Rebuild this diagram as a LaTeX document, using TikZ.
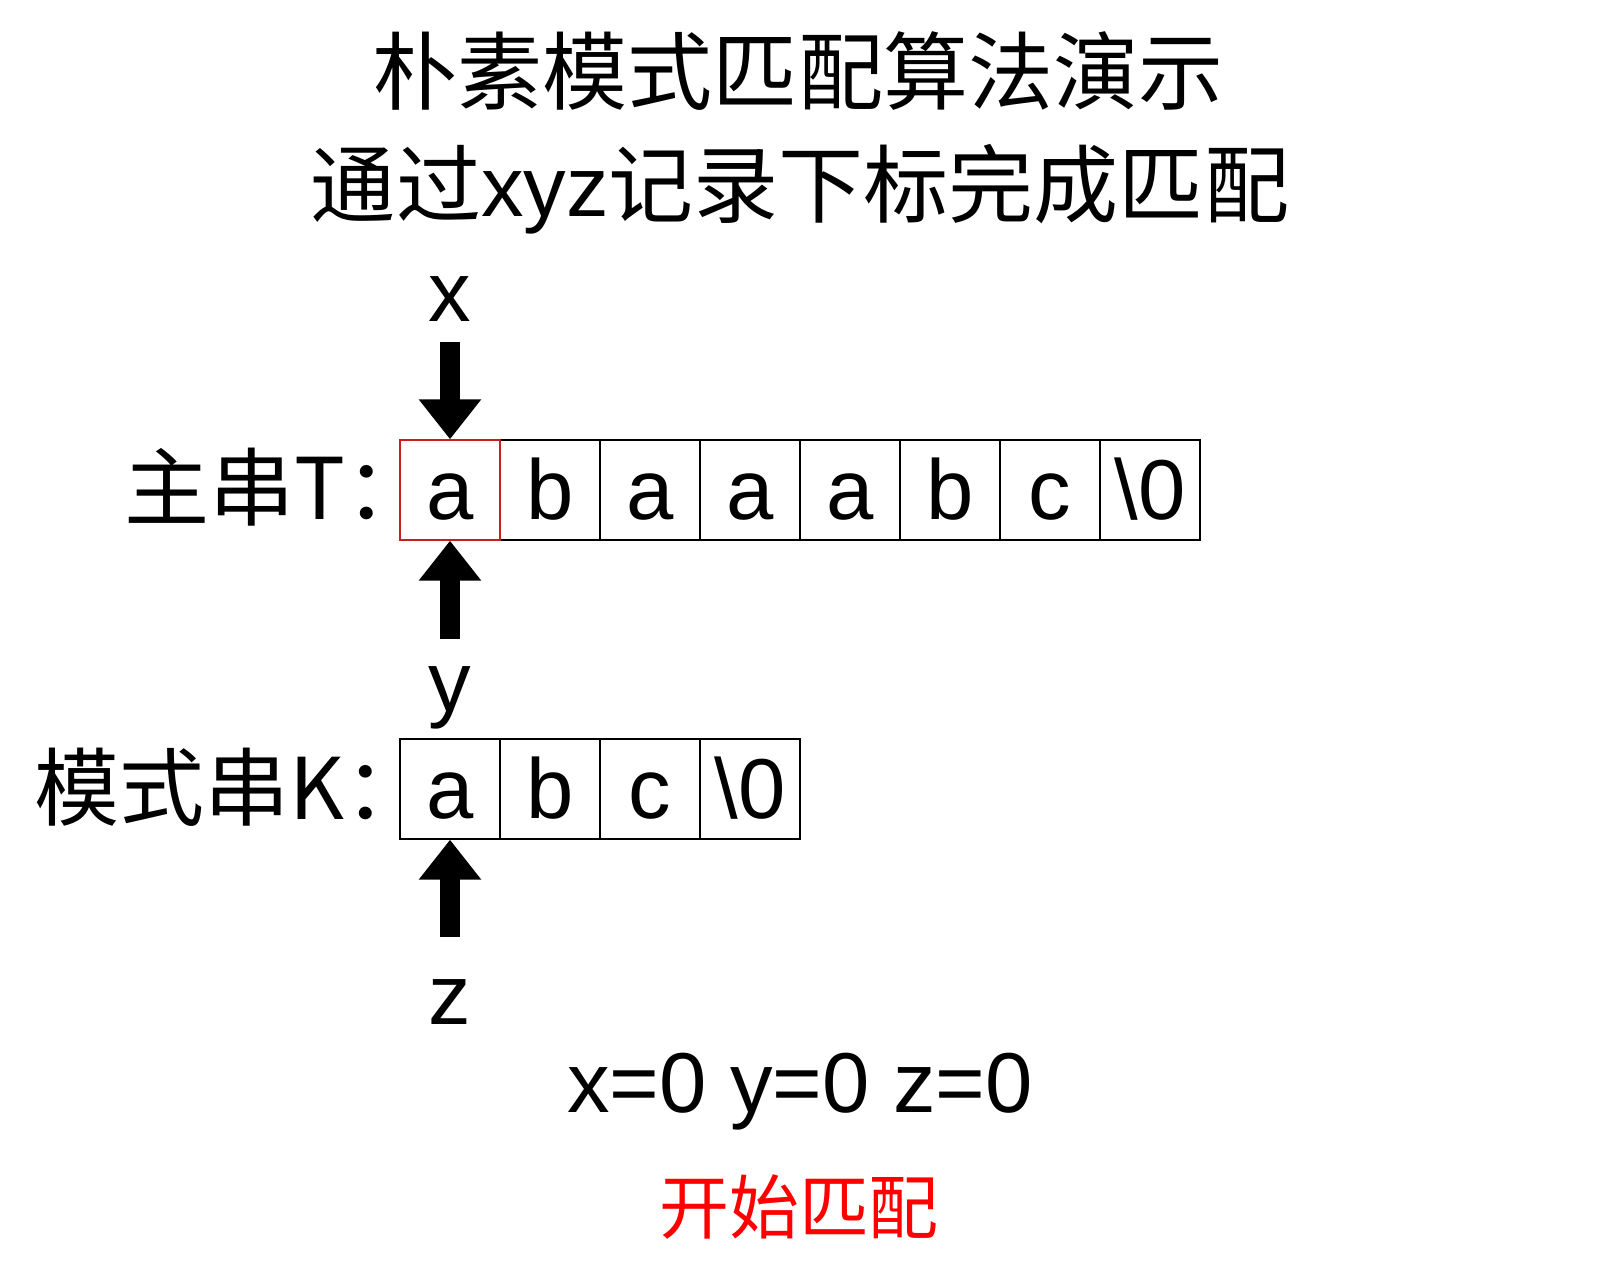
\documentclass[tikz,border=0pt]{standalone}
\usepackage{fontspec}
\setmainfont{Liberation Sans}
\newfontfamily\cjk{Noto Sans CJK SC}
\usetikzlibrary{arrows.meta}
\definecolor{hlred}{RGB}{200,30,30}
\begin{document}
\begin{tikzpicture}[
    cell/.style={draw, line width=0.4pt, minimum size=1cm, inner sep=0pt,
      text height=0.6cm, text depth=0pt, font=\fontsize{24.2}{29}\selectfont},
    lbl/.style={inner sep=0pt, anchor=base, font=\fontsize{24.2}{29}\selectfont},
    ptr/.style={line width=0.2cm, -{Triangle[width=0.6cm,length=0.4cm]}}
  ]
  \useasboundingbox (0,0) rectangle (16,-12.8);
  % titles
  \draw
    (7.98,-1.04) node[lbl] (title){\cjk 朴素模式匹配算法演示}
    (8.0,-2.17) node[lbl] (sub){{\cjk 通过}xyz{\cjk 记录下标完成匹配}};
  % main string T
  \draw
    (1.24,-5.2) node[lbl, anchor=base west] (tname){\cjk 主串T：}
    (5.5,-4.9) node[cell] (t1){b}
    (6.5,-4.9) node[cell] (t2){a}
    (7.5,-4.9) node[cell] (t3){a}
    (8.5,-4.9) node[cell] (t4){a}
    (9.5,-4.9) node[cell] (t5){b}
    (10.5,-4.9) node[cell] (t6){c}
    (11.5,-4.9) node[cell] (t7){\textbackslash 0}
    (4.5,-4.9) node[cell, draw=hlred] (t0){a};
  % pattern K
  \draw
    (0.34,-8.2) node[lbl, anchor=base west] (kname){\cjk 模式串K：}
    (4.5,-7.89) node[cell] (k0){a}
    (5.5,-7.89) node[cell] (k1){b}
    (6.5,-7.89) node[cell] (k2){c}
    (7.5,-7.89) node[cell] (k3){\textbackslash 0};
  % index labels
  \draw
    (4.5,-3.22) node[lbl] (xl){x}
    (4.5,-7.12) node[lbl] (yl){y}
    (4.5,-10.24) node[lbl] (zl){z}
    (8.0,-11.12) node[lbl] (state){x=0 y=0 z=0}
    (7.99,-12.33) node[lbl, text=red, font=\fontsize{19.9}{24}\selectfont\cjk] (msg){开始匹配};
  \begin{scope}[ptr]
    \draw[shorten <=0.19cm] (xl.south) to (t0.north);
    \draw[shorten <=0.27cm] (yl.north) to (t0.south);
    \draw[shorten <=0.41cm] (zl.north) to (k0.south);
  \end{scope}
\end{tikzpicture}
\end{document}
